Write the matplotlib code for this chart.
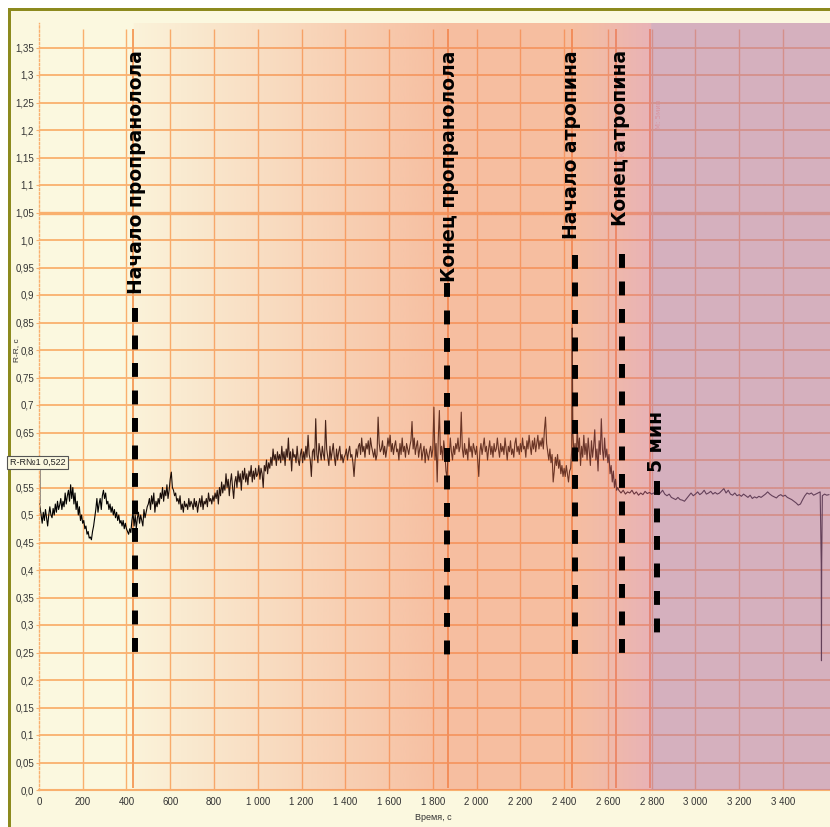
import numpy as np
import matplotlib
matplotlib.use("Agg")
import matplotlib.pyplot as plt
from matplotlib import font_manager
from matplotlib.patches import Rectangle
from matplotlib.lines import Line2D

plt.rcParams['lines.scale_dashes'] = False

# ---------------- data ----------------
# beat-to-beat part, read every 5 s (0 .. 2645 s)
rr_a_start, rr_a_step = 0, 5
rr_values_a = [
    0.527, 0.515, 0.50, 0.485, 0.505, 0.49, 0.51, 0.495, 0.48, 0.50, 0.515, 0.50, 0.495, 0.512, 0.50, 0.52, 0.505, 0.525, 0.51, 0.518,
    0.53, 0.51, 0.525, 0.515, 0.54, 0.52, 0.535, 0.545, 0.525, 0.555, 0.53, 0.55, 0.52, 0.54, 0.51, 0.525, 0.50, 0.515, 0.49, 0.50,
    0.485, 0.49, 0.475, 0.48, 0.465, 0.47, 0.458, 0.46, 0.455, 0.47, 0.48, 0.495, 0.51, 0.53, 0.505, 0.52, 0.53, 0.51, 0.535, 0.545,
    0.53, 0.54, 0.52, 0.525, 0.51, 0.52, 0.505, 0.515, 0.50, 0.51, 0.495, 0.505, 0.49, 0.50, 0.485, 0.49, 0.48, 0.49, 0.475, 0.485,
    0.475, 0.47, 0.465, 0.475, 0.468, 0.49, 0.505, 0.48, 0.50, 0.475, 0.495, 0.505, 0.485, 0.50, 0.49, 0.48, 0.51, 0.495, 0.505, 0.515,
    0.52, 0.53, 0.51, 0.535, 0.52, 0.54, 0.505, 0.525, 0.515, 0.53, 0.52, 0.54, 0.53, 0.55, 0.525, 0.545, 0.535, 0.555, 0.53, 0.545,
    0.565, 0.578, 0.55, 0.545, 0.535, 0.54, 0.525, 0.53, 0.52, 0.535, 0.51, 0.52, 0.505, 0.525, 0.515, 0.52, 0.51, 0.53, 0.515, 0.525,
    0.52, 0.51, 0.53, 0.515, 0.525, 0.505, 0.52, 0.53, 0.515, 0.535, 0.51, 0.525, 0.52, 0.53, 0.515, 0.54, 0.525, 0.53, 0.52, 0.535,
    0.525, 0.54, 0.53, 0.545, 0.52, 0.55, 0.535, 0.56, 0.54, 0.555, 0.545, 0.575, 0.55, 0.565, 0.535, 0.56, 0.575, 0.55, 0.53, 0.56,
    0.57, 0.55, 0.58, 0.56, 0.575, 0.545, 0.58, 0.565, 0.585, 0.56, 0.575, 0.555, 0.58, 0.57, 0.59, 0.56, 0.58, 0.565, 0.585, 0.57,
    0.575, 0.59, 0.565, 0.585, 0.575, 0.55, 0.59, 0.58, 0.60, 0.575, 0.595, 0.585, 0.605, 0.59, 0.62, 0.60, 0.61, 0.59, 0.615, 0.60,
    0.61, 0.595, 0.625, 0.60, 0.615, 0.59, 0.62, 0.605, 0.64, 0.60, 0.615, 0.58, 0.62, 0.605, 0.61, 0.595, 0.625, 0.60, 0.59, 0.61,
    0.62, 0.595, 0.615, 0.60, 0.625, 0.605, 0.645, 0.61, 0.60, 0.57, 0.615, 0.62, 0.60, 0.675, 0.61, 0.595, 0.63, 0.615, 0.60, 0.625,
    0.61, 0.60, 0.672, 0.62, 0.605, 0.59, 0.625, 0.60, 0.615, 0.63, 0.605, 0.59, 0.62, 0.60, 0.615, 0.625, 0.60, 0.61, 0.595, 0.605,
    0.61, 0.62, 0.60, 0.615, 0.625, 0.605, 0.61, 0.595, 0.57, 0.60, 0.62, 0.605, 0.625, 0.63, 0.61, 0.64, 0.615, 0.625, 0.605, 0.63,
    0.62, 0.635, 0.61, 0.64, 0.625, 0.615, 0.605, 0.62, 0.60, 0.61, 0.678, 0.63, 0.615, 0.62, 0.635, 0.61, 0.625, 0.605, 0.62, 0.64,
    0.625, 0.645, 0.615, 0.63, 0.61, 0.625, 0.635, 0.615, 0.62, 0.60, 0.63, 0.61, 0.64, 0.615, 0.625, 0.605, 0.63, 0.62, 0.61, 0.625,
    0.635, 0.67, 0.62, 0.64, 0.61, 0.625, 0.635, 0.605, 0.62, 0.63, 0.60, 0.615, 0.625, 0.595, 0.62, 0.61, 0.60, 0.615, 0.625, 0.605,
    0.62, 0.696, 0.60, 0.63, 0.56, 0.64, 0.69, 0.61, 0.625, 0.60, 0.635, 0.615, 0.58, 0.567, 0.62, 0.605, 0.64, 0.615, 0.60, 0.625,
    0.61, 0.63, 0.62, 0.64, 0.615, 0.625, 0.687, 0.62, 0.605, 0.63, 0.61, 0.62, 0.60, 0.64, 0.615, 0.625, 0.605, 0.63, 0.62, 0.61,
    0.625, 0.60, 0.57, 0.615, 0.63, 0.61, 0.625, 0.64, 0.615, 0.625, 0.60, 0.62, 0.635, 0.61, 0.625, 0.605, 0.63, 0.615, 0.62, 0.64,
    0.62, 0.605, 0.63, 0.615, 0.625, 0.61, 0.64, 0.62, 0.60, 0.625, 0.615, 0.635, 0.61, 0.62, 0.605, 0.63, 0.64, 0.615, 0.625, 0.61,
    0.63, 0.615, 0.64, 0.62, 0.625, 0.605, 0.635, 0.62, 0.645, 0.625, 0.61, 0.635, 0.62, 0.64, 0.615, 0.63, 0.645, 0.62, 0.635, 0.625,
    0.64, 0.62, 0.655, 0.678, 0.63, 0.615, 0.60, 0.62, 0.595, 0.61, 0.56, 0.58, 0.605, 0.59, 0.61, 0.585, 0.60, 0.575, 0.59, 0.57,
    0.585, 0.57, 0.59, 0.575, 0.56, 0.58, 0.585, 0.62, 0.65, 0.61, 0.63, 0.60, 0.66, 0.615, 0.64, 0.59, 0.625, 0.605, 0.645, 0.61,
    0.63, 0.60, 0.64, 0.615, 0.59, 0.635, 0.605, 0.625, 0.655, 0.60, 0.62, 0.58, 0.635, 0.61, 0.675, 0.62, 0.60, 0.64, 0.605, 0.62,
    0.595, 0.61, 0.575, 0.59, 0.56, 0.58, 0.55, 0.565, 0.545, 0.55,
]
# calm part after atropine, read every 10 s (2650 .. 3610 s)
rr_b_start, rr_b_step = 2650, 10
rr_values_b = [
    0.545, 0.54, 0.545, 0.538, 0.542, 0.54, 0.545, 0.538, 0.542, 0.536,
    0.54, 0.537, 0.543, 0.539, 0.541, 0.538, 0.54, 0.542, 0.537, 0.54,
    0.545, 0.538, 0.535, 0.538, 0.532, 0.53, 0.528, 0.532, 0.528, 0.527,
    0.525, 0.53, 0.535, 0.54, 0.535, 0.538, 0.542, 0.537, 0.54, 0.545,
    0.538, 0.54, 0.543, 0.538, 0.541, 0.538, 0.54, 0.544, 0.548, 0.54,
    0.545, 0.538, 0.536, 0.54, 0.535, 0.537, 0.534, 0.538, 0.535, 0.532,
    0.536, 0.53, 0.533, 0.531, 0.534, 0.532, 0.535, 0.538, 0.542, 0.538,
    0.535, 0.533, 0.531, 0.535, 0.537, 0.534, 0.536, 0.532, 0.53, 0.528,
    0.525, 0.522, 0.518, 0.52, 0.528, 0.535, 0.54, 0.538, 0.54, 0.536,
    0.538, 0.54, 0.542, 0.535, 0.538, 0.536, 0.537,
]
artifact_times = [2437, 3575, 3576, 3577]
artifact_values = [0.84, 0.41, 0.235, 0.41]

event_times = [431, 1868, 2435, 2637, 2794]
marker_times = [437, 1865, 2450, 2664, 2826]
marker_top = [0.877, 0.922, 0.973, 0.975, 0.562]
marker_bottom = [0.245, 0.245, 0.245, 0.245, 0.272]
marker_labels = ["Начало пропранолола", "Конец пропранолола",
                 "Начало атропина", "Конец атропина", "5 мин"]
label_x = [444, 1875, 2436, 2656, 2823]

x_ticks = list(range(0, 3401, 200))
x_tick_labels = ["0", "200", "400", "600", "800", "1 000", "1 200", "1 400",
                 "1 600", "1 800", "2 000", "2 200", "2 400", "2 600",
                 "2 800", "3 000", "3 200", "3 400"]
y_ticks = [round(0.05 * i, 2) for i in range(28)]
y_tick_labels = ["0,0", "0,05", "0,1", "0,15", "0,2", "0,25", "0,3", "0,35",
                 "0,4", "0,45", "0,5", "0,55", "0,6", "0,65", "0,7", "0,75",
                 "0,8", "0,85", "0,9", "0,95", "1,0", "1,05", "1,1", "1,15",
                 "1,2", "1,25", "1,3", "1,35"]
cursor_value = 0.522

# ---------------- figure ----------------
W, H = 830, 827
fig = plt.figure(figsize=(W / 100, H / 100), dpi=100)
fig.patch.set_facecolor("white")

def fx(px):
    return px / W

def fy(py):
    return 1 - py / H

CREAM = "#FBF8DF"
OLIVE = "#8C8A1E"
ORANGE = "#F9B06E"

fig.patches.append(Rectangle((fx(8), 0), 1, fy(8), transform=fig.transFigure,
                             facecolor=CREAM, edgecolor="none", zorder=-3))
fig.patches.append(Rectangle((fx(8), 0), fx(3), fy(8), transform=fig.transFigure,
                             facecolor=OLIVE, edgecolor="none", zorder=-2))
fig.patches.append(Rectangle((fx(8), fy(11)), 1, 3 / H, transform=fig.transFigure,
                             facecolor=OLIVE, edgecolor="none", zorder=-2))

font_small = "Liberation Sans"
try:
    font_manager.findfont("Liberation Sans Narrow", fallback_to_default=False)
    font_small = "Liberation Sans Narrow"
except Exception:
    pass

x_px0, px_per_s = 38.9, 0.21884
y_px0, px_per_unit = 790, 550.0
ax_top_px = 23
xmax = (W - x_px0) / px_per_s
ymax = (y_px0 - ax_top_px) / px_per_unit
grid_top = (y_px0 - 29) / px_per_unit

ax = fig.add_axes([fx(x_px0), fy(y_px0), 1 - fx(x_px0), fy(ax_top_px) - fy(y_px0)])
ax.set_zorder(2)
ax.set_facecolor(CREAM)
ax.set_xlim(0, xmax)
ax.set_ylim(0, ymax)

# grid
ax.hlines([y for y in y_ticks if y > 0], 0, xmax, color=ORANGE, lw=1.3, zorder=1)
ax.hlines([1.05], 0, xmax, color=ORANGE, lw=2.4, zorder=1)
ax.vlines(x_ticks[1:], 0, grid_top, color=ORANGE, lw=1.0, zorder=1)
ax.vlines(event_times, 0.004, grid_top, color="#F5A060", lw=1.4, zorder=1)

# signal
t_a = rr_a_start + rr_a_step * np.arange(len(rr_values_a))
t_b = rr_b_start + rr_b_step * np.arange(len(rr_values_b))
tt = np.concatenate([t_a, t_b, artifact_times])
vv = np.concatenate([rr_values_a, rr_values_b, artifact_values])
order = np.argsort(tt, kind="stable")
ax.plot(tt[order], vv[order], color="black", lw=0.8, zorder=2)

# cursor line
ax.plot([4, 4], [cursor_value, 0.582], color="#777777", lw=0.6, zorder=2)

# background overlay (gradient bands)
kx = [0, 431, 431.5, 1850, 2435, 2794, 2794.5, xmax]
kr = [241, 241, 241, 241, 241, 214, 183, 183]
kg = [120, 120, 120, 120, 120, 109, 118, 118]
kb = [84, 84, 84, 84, 84, 142, 164, 164]
ka = [0, 0, 0.04, 0.45, 0.45, 0.5, 0.55, 0.55]
xs = np.linspace(0, xmax, 2400)
img = np.zeros((1, xs.size, 4))
img[0, :, 0] = np.interp(xs, kx, kr) / 255
img[0, :, 1] = np.interp(xs, kx, kg) / 255
img[0, :, 2] = np.interp(xs, kx, kb) / 255
img[0, :, 3] = np.interp(xs, kx, ka)
ax.imshow(img, extent=[0, xmax, 0, ymax], aspect="auto", zorder=3,
          interpolation="bilinear")

# dashed markers
for xm, yt, yb in zip(marker_times, marker_top, marker_bottom):
    ax.add_line(Line2D([xm, xm], [yt, yb], color="black", lw=4.3,
                       dashes=(10.0, 9.8), solid_capstyle="butt",
                       dash_capstyle="butt", zorder=5))

for i, (xl, lab) in enumerate(zip(label_x, marker_labels)):
    if i < 4:
        ax.text(xl, 1.345, lab, rotation=90, ha="center", va="top",
                fontsize=13.5, fontweight="bold", family="DejaVu Sans",
                color="black", zorder=6)
    else:
        ax.text(xl, 0.578, lab, rotation=90, ha="center", va="bottom",
                fontsize=13.5, fontweight="bold", family="DejaVu Sans",
                color="black", zorder=6)

# faint marker captions
ax.text(2668, 1.26, "М: Конец атропина", rotation=90, ha="center", va="top",
        fontsize=5, color="#E3A0A8", zorder=4)
ax.text(2832, 1.255, "М: 5мин", rotation=90, ha="center", va="top",
        fontsize=5, color="#D9949E", zorder=4)

# axes styling
for s in ["top", "right"]:
    ax.spines[s].set_visible(False)
ax.spines["bottom"].set_color(ORANGE)
ax.spines["bottom"].set_linewidth(1.5)
ax.spines["left"].set_color(ORANGE)
ax.spines["left"].set_linewidth(1.0)
ax.spines["left"].set_linestyle((0, (1.5, 1.5)))

ax.set_xticks(x_ticks)
ax.set_xticklabels(x_tick_labels, fontsize=7, color="#333333", family=font_small)
ax.set_yticks(y_ticks)
ax.set_yticklabels(y_tick_labels, fontsize=7, color="#333333", family=font_small)
ax.tick_params(axis="x", length=0, pad=5)
ax.tick_params(axis="y", length=2, width=0.8, color=ORANGE, pad=1.5)

fig.text(fx(433), fy(817), "Время, с", ha="center", va="center",
         fontsize=6.5, color="#333333", family=font_small)
fig.text(fx(17), fy(350), "R-R, c", ha="center", va="center", rotation=90,
         fontsize=6, color="#333333", family=font_small)
fig.text(fx(37.5), fy(462.5), "R-R№1 0,522", ha="center", va="center",
         fontsize=6.5, color="#222222", family=font_small, zorder=10,
         bbox=dict(boxstyle="square,pad=0.25", facecolor=CREAM,
                   edgecolor="#555555", linewidth=0.8))

fig.savefig("out.png", dpi=100, facecolor=fig.get_facecolor())
